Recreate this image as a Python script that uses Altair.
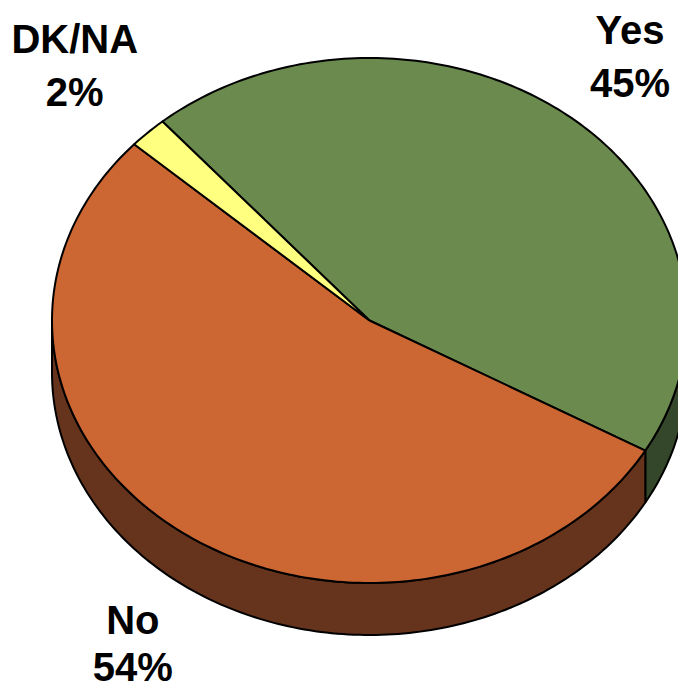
import math
import altair as alt
import pandas as pd

# ---- data ----
categories = ["Yes", "No", "DK/NA"]
values = [45, 54, 2]
pct_labels = ["45%", "54%", "2%"]

# ---- styles ----
top_colors = {"Yes": "#6B8A4E", "No": "#CC6633", "DK/NA": "#FFFF80"}
side_colors = {"Yes": "#35472A", "No": "#66341C", "DK/NA": "#80803F"}

# ---- layout (page pixel units) ----
CX, CY = 369.5, 320.5      # centre of top face
RX, RY = 317.5, 262.5      # radii of the tilted ellipse
DEPTH = 52                 # thickness of the pie
START = -130.7             # parametric angle where the first slice begins (clockwise)
# label anchor radius factors (x, y) and gap between the two label lines
LABEL_R = {"Yes": (1.29, 1.305), "No": (1.27, 1.273), "DK/NA": (1.33, 1.36)}
LABEL_GAP = {"Yes": 53, "No": 47, "DK/NA": 53}
FONT_SIZE = 40

total = float(sum(values))


def ell(t, dy=0.0):
    r = math.radians(t)
    return CX + RX * math.cos(r), CY + RY * math.sin(r) + dy


cap_mid = 0.358 * FONT_SIZE
rows = []
label_rows = []
a = START
for name, v, p in zip(categories, values, pct_labels):
    b = a + 360.0 * v / total
    # top face wedge
    pts = [(CX, CY)]
    n = max(2, int(abs(b - a)))
    for k in range(n + 1):
        pts.append(ell(a + (b - a) * k / n))
    pts.append((CX, CY))
    for i, (x, y) in enumerate(pts):
        rows.append({"piece": "top_" + name, "i": i, "x": x, "y": y})
    # visible side (front half of the ellipse: 0..180 deg)
    for off in (-360, 0, 360):
        lo, hi = max(a, 0 + off), min(b, 180 + off)
        if hi > lo:
            m = max(2, int(hi - lo))
            edge = [lo + (hi - lo) * k / m for k in range(m + 1)]
            spts = [ell(t) for t in edge] + [ell(t, DEPTH) for t in reversed(edge)]
            spts.append(spts[0])
            for i, (x, y) in enumerate(spts):
                rows.append({"piece": "side_" + name + str(off), "i": i, "x": x, "y": y})
    # label anchor along the slice's mid angle
    mid = math.radians((a + b) / 2)
    kx, ky = LABEL_R[name]
    lx = CX + kx * RX * math.cos(mid)
    ly = CY + ky * RY * math.sin(mid) + (DEPTH if math.sin(mid) > 0 else 0)
    g = LABEL_GAP[name]
    label_rows.append({"name": name, "pct": p, "x": lx,
                       "y1": ly - g / 2 + cap_mid, "y2": ly + g / 2 + cap_mid})
    a = b

geo = pd.DataFrame(rows)
lab = pd.DataFrame(label_rows)

# chart covers page pixels 8..678 (x) and 8..690 (y): the body's content box
xs = alt.Scale(domain=[8, 678], nice=False, zero=False)
ys = alt.Scale(domain=[8, 690], nice=False, zero=False, reverse=True)

layers = []
side_pieces = [pc for pc in geo["piece"].unique() if pc.startswith("side_")]
top_pieces = [pc for pc in geo["piece"].unique() if pc.startswith("top_")]
for pc in side_pieces + top_pieces:
    name = pc.split("_", 1)[1]
    if pc.startswith("side_"):
        name = name.rstrip("-0123456789")
        col = side_colors[name]
    else:
        col = top_colors[name]
    layers.append(
        alt.Chart(geo)
        .transform_filter(alt.datum.piece == pc)
        .mark_line(fill=col, stroke="black", strokeWidth=2, strokeJoin="round")
        .encode(
            x=alt.X("x:Q", scale=xs, axis=None),
            y=alt.Y("y:Q", scale=ys, axis=None),
            order=alt.Order("i:Q"),
        )
    )

text_style = dict(font="Liberation Sans", fontWeight="bold", fontSize=FONT_SIZE,
                  color="black", align="center", baseline="alphabetic")
name_text = alt.Chart(lab).mark_text(**text_style).encode(
    x=alt.X("x:Q", scale=xs, axis=None),
    y=alt.Y("y1:Q", scale=ys, axis=None),
    text="name:N",
)
pct_text = alt.Chart(lab).mark_text(**text_style).encode(
    x=alt.X("x:Q", scale=xs, axis=None),
    y=alt.Y("y2:Q", scale=ys, axis=None),
    text="pct:N",
)

chart = (
    alt.layer(*layers, name_text, pct_text)
    .properties(width=670, height=682, autosize=alt.AutoSizeParams(type="none"), padding=0)
    .configure_view(stroke="transparent")
)

chart.save("out.html", embed_options={"renderer": "svg", "actions": False})
